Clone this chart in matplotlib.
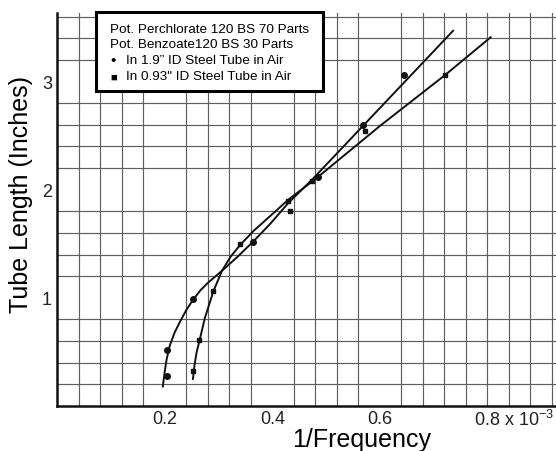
import numpy as np
import matplotlib
matplotlib.use("Agg")
import matplotlib.pyplot as plt
from matplotlib.patches import Rectangle

plt.rcParams['font.family'] = ['Liberation Sans', 'DejaVu Sans']
plt.rcParams['mathtext.default'] = 'regular'

# 1.9" ID tube (circles)
circ_x = [0.204, 0.204, 0.252, 0.364, 0.485, 0.568, 0.645]
circ_y = [0.28, 0.52, 0.99, 1.52, 2.12, 2.60, 3.06]
# 0.93" ID tube (squares)
sq_x = [0.252, 0.263, 0.290, 0.340, 0.429, 0.433, 0.473, 0.572, 0.721]
sq_y = [0.32, 0.61, 1.06, 1.50, 1.90, 1.80, 2.08, 2.54, 3.06]

# hand-drawn fit curves
curve_a_x = [0.196, 0.199, 0.203, 0.209, 0.218, 0.228, 0.240, 0.252, 0.266, 0.280,
             0.306, 0.335, 0.364, 0.395, 0.430, 0.475, 0.736]
curve_a_y = [0.18, 0.30, 0.43, 0.56, 0.68, 0.78, 0.89, 0.98, 1.07, 1.14,
             1.25, 1.38, 1.52, 1.68, 1.88, 2.10, 3.47]
curve_b_x = [0.252, 0.255, 0.259, 0.265, 0.274, 0.290, 0.306, 0.322, 0.340, 0.365,
             0.392, 0.430, 0.475, 0.490, 0.600, 0.721, 0.806]
curve_b_y = [0.25, 0.38, 0.50, 0.62, 0.81, 1.06, 1.25, 1.38, 1.49, 1.62,
             1.74, 1.91, 2.08, 2.14, 2.59, 3.06, 3.41]

x_ticks = [0.2, 0.4, 0.6]
y_ticks = [1, 2, 3]

fig = plt.figure(figsize=(5.56, 4.52), dpi=100)
ax = fig.add_axes([0.1034, 0.0996, 0.899, 0.8684])
ax.set_xlim(0, 0.93)
ax.set_ylim(0, 3.63)

ax.set_xticks(x_ticks)
ax.set_xticklabels([f"{v:.1f}" for v in x_ticks])
ax.set_xticks(np.arange(0.04, 0.93, 0.04), minor=True)
ax.set_yticks(y_ticks)
ax.set_yticks(np.arange(0.2, 3.61, 0.2), minor=True)
ax.tick_params(which='both', length=0, labelsize=13, colors='#222222')
ax.tick_params(axis='x', pad=3)
ax.tick_params(axis='y', pad=4)
ax.grid(which='minor', color='#5e5e5e', lw=0.85)
ax.grid(which='major', visible=False)
ax.set_axisbelow(True)

for side in ['top', 'right']:
    ax.spines[side].set_visible(False)
for side in ['left', 'bottom']:
    ax.spines[side].set_linewidth(1.8)
    ax.spines[side].set_color('#111111')

ax.plot(curve_a_x, curve_a_y, color='#111111', lw=1.4)
ax.plot(curve_b_x, curve_b_y, color='#111111', lw=1.4)
ax.plot(circ_x, circ_y, 'o', color='#111111', ms=4)
ax.plot(sq_x, sq_y, 's', color='#111111', ms=3.3)

ax.annotate("0.8 x 10$^{-3}$", xy=(0.8, 0), xycoords=('data', 'axes fraction'),
            xytext=(-10, -2), textcoords='offset points', ha='left', va='top',
            fontsize=13, color='#222222')

fig.text(0.65, 0.011, "1/Frequency", fontsize=18, ha='center', va='baseline')
fig.text(0.038, 0.569, "Tube Length (Inches)", fontsize=18, rotation=90,
         ha='center', va='center')

# legend box
fig.patches.append(Rectangle((0.173, 0.796), 0.408, 0.175, transform=fig.transFigure,
                             facecolor='white', edgecolor='black', lw=2.2, zorder=5))
legend_lines = ["Pot. Perchlorate 120 BS 70 Parts", "Pot. Benzoate120 BS 30 Parts"]
fig.text(0.198, 0.934, legend_lines[0], fontsize=9.7, va='center', zorder=6)
fig.text(0.198, 0.900, legend_lines[1], fontsize=9.7, va='center', zorder=6)
fig.text(0.198, 0.864, "\u2022", fontsize=11, va='center', zorder=6)
fig.text(0.226, 0.864, "In 1.9\u201d ID Steel Tube in Air", fontsize=9.7, va='center', zorder=6)
fig.text(0.198, 0.829, "\u25a0", fontsize=8, va='center', zorder=6)
fig.text(0.226, 0.829, "In 0.93\" ID Steel Tube in Air", fontsize=9.7, va='center', zorder=6)

fig.savefig("out.png", dpi=100, facecolor='white')
